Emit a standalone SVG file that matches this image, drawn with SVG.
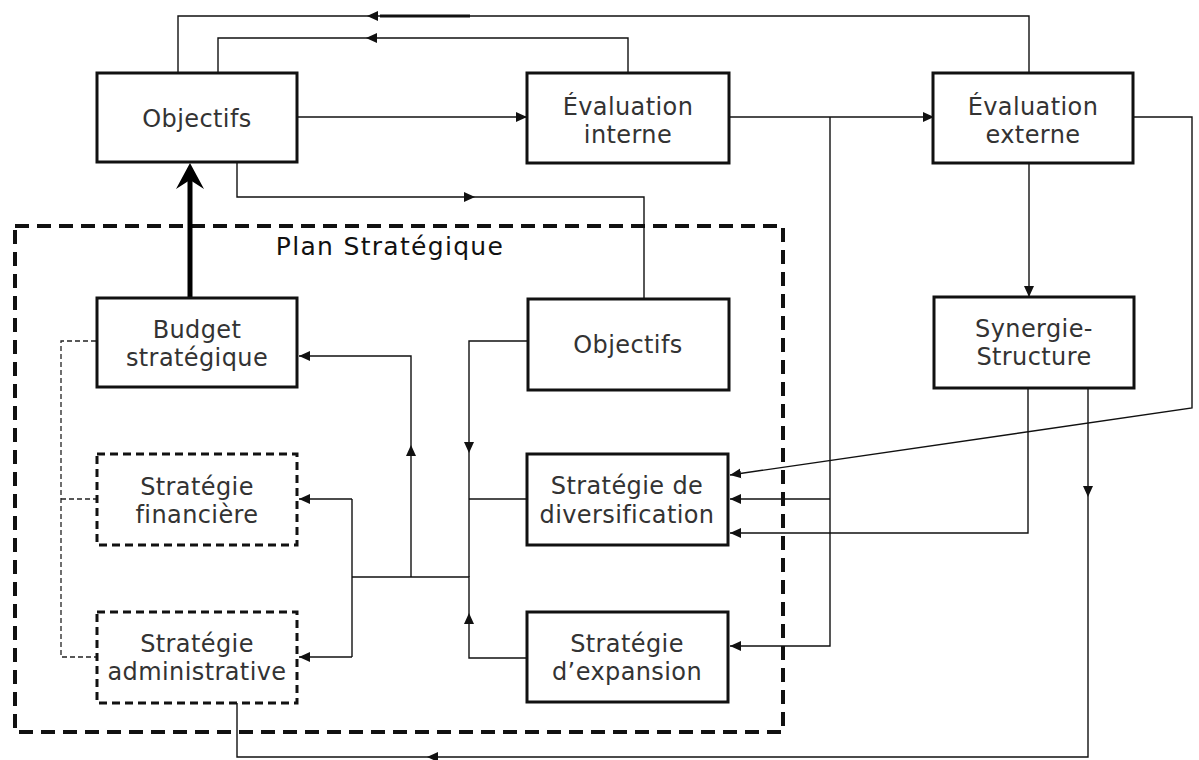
<svg xmlns="http://www.w3.org/2000/svg" width="1199" height="760" viewBox="0 0 1199 760">
<style>
.box{fill:#fff;stroke:#111;stroke-width:3}
.dbox{fill:#fff;stroke:#111;stroke-width:3;stroke-dasharray:8 5}
.ln{fill:none;stroke:#111;stroke-width:1.4}
.ar{fill:none;stroke:#111;stroke-width:1.4;marker-end:url(#ah)}
.dl{fill:none;stroke:#222;stroke-width:1.3;stroke-dasharray:5 3}
.t{font-family:"DejaVu Sans",Verdana,sans-serif;font-size:24px;letter-spacing:0.4px;fill:#333;text-anchor:middle}
.pt{font-family:"DejaVu Sans",Verdana,sans-serif;font-size:25px;letter-spacing:1.3px;fill:#111;text-anchor:middle}
</style>
<defs>
<marker id="ah" markerUnits="userSpaceOnUse" markerWidth="12" markerHeight="12" refX="11" refY="5" orient="auto" viewBox="0 0 12 10">
<path d="M0,0 L11,5 L0,10 z" fill="#111"/>
</marker>
</defs>
<rect width="1199" height="760" fill="#fff"/>
<g id="plan">
<rect x="15" y="226" width="768" height="506" fill="none" stroke="#111" stroke-width="4" stroke-dasharray="14 8"/>
<text class="pt" x="390" y="255">Plan Stratégique</text>
</g>
<g id="connectors">
<path class="ar" d="M1029,73 V16 H367"/>
<path class="ln" d="M367,16 H178 V73"/>
<path d="M380,16 H470" stroke="#111" stroke-width="3"/>
<path class="ar" d="M628,73 V38 H366"/>
<path class="ln" d="M366,38 H218 V73"/>
<path class="ar" d="M237,162 V197 H475"/>
<path class="ln" d="M475,197 H644 V298"/>
<path class="ar" d="M297,117 H527"/>
<path class="ar" d="M729,117 H934"/>
<path class="ar" d="M1029,163 V297"/>
<path class="ar" d="M1133,117 H1192 V408 L730,475"/>
<path class="ar" d="M830,117 V646 H730"/>
<path class="ar" d="M830,499 H730"/>
<path class="ar" d="M1028,388 V533 H730"/>
<path class="ar" d="M1088,388 V497"/>
<path class="ar" d="M1088,497 V757 H427"/>
<path class="ln" d="M427,757 H237 V703"/>
<path class="ar" d="M528,341 H469 V453"/>
<path class="ln" d="M469,453 V577"/>
<path class="ln" d="M527,499 H469"/>
<path class="ar" d="M527,658 H469 V613"/>
<path class="ln" d="M469,613 V577 H352"/>
<path class="ar" d="M411,577 V445"/>
<path class="ar" d="M411,445 V356 H299"/>
<path class="ln" d="M352,499 V657"/>
<path class="ar" d="M352,499 H299"/>
<path class="ar" d="M352,657 H299"/>
<path d="M190,298 V178" stroke="#000" stroke-width="5" fill="none"/>
<path d="M190,163 L176,189 L190,180 L204,189 z" fill="#000"/>
<path class="dl" d="M96,341 H61 V657 H96 M61,499 H96"/>
</g>
<g id="objectifs">
<rect class="box" x="97" y="73" width="200" height="89"/>
<text class="t" x="197" y="127">Objectifs</text>
</g>
<g id="eval-interne">
<rect class="box" x="527" y="73" width="202" height="90"/>
<text class="t" x="628" y="115">Évaluation</text>
<text class="t" x="628" y="143">interne</text>
</g>
<g id="eval-externe">
<rect class="box" x="933" y="73" width="200" height="90"/>
<text class="t" x="1033" y="115">Évaluation</text>
<text class="t" x="1033" y="143">externe</text>
</g>
<g id="budget">
<rect class="box" x="97" y="298" width="200" height="89"/>
<text class="t" x="197" y="338">Budget</text>
<text class="t" x="197" y="366">stratégique</text>
</g>
<g id="objectifs-plan">
<rect class="box" x="528" y="299" width="201" height="91"/>
<text class="t" x="628" y="353">Objectifs</text>
</g>
<g id="synergie">
<rect class="box" x="934" y="297" width="200" height="91"/>
<text class="t" x="1034" y="337">Synergie-</text>
<text class="t" x="1034" y="365">Structure</text>
</g>
<g id="strat-financiere">
<rect class="dbox" x="97" y="454" width="200" height="91"/>
<text class="t" x="197" y="495">Stratégie</text>
<text class="t" x="197" y="523">financière</text>
</g>
<g id="strat-diversification">
<rect class="box" x="527" y="454" width="201" height="91"/>
<text class="t" x="627" y="494">Stratégie de</text>
<text class="t" x="627" y="523">diversification</text>
</g>
<g id="strat-administrative">
<rect class="dbox" x="97" y="612" width="200" height="91"/>
<text class="t" x="197" y="652">Stratégie</text>
<text class="t" x="197" y="680">administrative</text>
</g>
<g id="strat-expansion">
<rect class="box" x="527" y="612" width="201" height="90"/>
<text class="t" x="627" y="652">Stratégie</text>
<text class="t" x="627" y="680">d’expansion</text>
</g>
</svg>
